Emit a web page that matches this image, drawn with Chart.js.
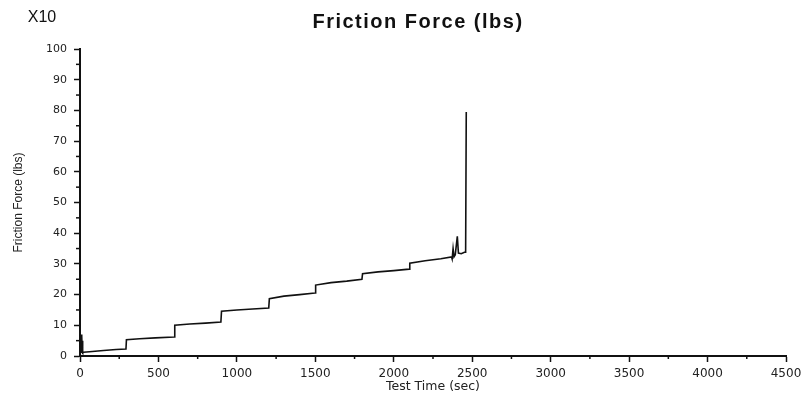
<!DOCTYPE html>
<html>
<head>
<meta charset="utf-8">
<script src="https://cdn.jsdelivr.net/npm/chart.js@4.4.0/dist/chart.umd.min.js"></script>
<style>
  html, body { margin: 0; padding: 0; background: #fff; }
</style>
</head>
<body>
<canvas id="chart" width="808" height="396"></canvas>
<script>
// test time (sec) and friction force (lbs x10)
var times = [0, 8, 10, 12, 14, 16, 18, 22, 60, 150, 230, 293, 296, 380, 480, 600, 604,
  700, 800, 898, 902, 1000, 1100, 1203, 1207, 1300, 1400, 1498, 1502, 1600, 1700,
  1797, 1801, 1900, 2000, 2098, 2102, 2200, 2300, 2368, 2372, 2378, 2384, 2392,
  2405, 2412, 2430, 2450, 2458, 2462];
var forces = [0.8, 7, 1, 6.5, 1.2, 5, 1, 1.2, 1.4, 1.8, 2.1, 2.3, 5.3, 5.6, 5.9, 6.2, 10,
  10.4, 10.7, 11.1, 14.6, 15, 15.3, 15.6, 18.7, 19.5, 20, 20.5, 23.1, 23.9, 24.4,
  25, 26.8, 27.4, 27.8, 28.3, 30.2, 31, 31.7, 32.3, 31.6, 35, 32.3, 33,
  39, 33.5, 33.3, 33.8, 33.8, 79.5];

var xTicks = [0, 500, 1000, 1500, 2000, 2500, 3000, 3500, 4000, 4500];
var yTicks = [0, 10, 20, 30, 40, 50, 60, 70, 80, 90, 100];
var xMinor = [250, 750, 1250, 1750, 2250, 2750, 3250, 3750, 4250];
var yMinor = [5, 15, 25, 35, 45, 55, 65, 75, 85, 95];

var points = times.map(function (t, i) { return { x: t, y: forces[i] }; });

// header text + minor ticks
var extras = {
  id: "extras",
  afterDraw: function (chart) {
    var ctx = chart.ctx;
    var xs = chart.scales.x, ys = chart.scales.y;
    ctx.save();
    ctx.strokeStyle = "#111";
    ctx.lineWidth = 1.5;
    xMinor.forEach(function (v) {
      var px = xs.getPixelForValue(v);
      ctx.beginPath();
      ctx.moveTo(px, xs.top);
      ctx.lineTo(px, xs.top + 3);
      ctx.stroke();
    });
    yMinor.forEach(function (v) {
      var py = ys.getPixelForValue(v);
      ctx.beginPath();
      ctx.moveTo(ys.right - 4, py);
      ctx.lineTo(ys.right, py);
      ctx.stroke();
    });
    ctx.fillStyle = "#111";
    ctx.textBaseline = "middle";
    ctx.textAlign = "center";
    ctx.font = "bold 20px 'Liberation Sans', Arial, sans-serif";
    ctx.letterSpacing = "1.5px";
    ctx.fillText("Friction Force (lbs)", 418, 22);
    ctx.letterSpacing = "0px";
    ctx.font = "16px 'Liberation Sans', Arial, sans-serif";
    ctx.fillText("X10", 42, 18);
    ctx.restore();
  }
};

new Chart(document.getElementById("chart"), {
  type: "line",
  data: {
    datasets: [{
      data: points,
      borderColor: "#111",
      borderWidth: 1.6,
      pointRadius: 0,
      tension: 0,
      fill: false
    }]
  },
  options: {
    responsive: false,
    animation: false,
    layout: { padding: { top: 49, right: 22, bottom: 0, left: 0 } },
    plugins: { legend: { display: false }, tooltip: { enabled: false } },
    scales: {
      x: {
        type: "linear",
        min: 0,
        max: 4500,
        afterBuildTicks: function (s) { s.ticks = xTicks.map(function (v) { return { value: v }; }); },
        afterFit: function (s) { s.height = 40; },
        border: { color: "#111", width: 2 },
        grid: { drawOnChartArea: false, tickLength: 6, tickColor: "#111", tickWidth: 1.5 },
        ticks: {
          color: "#222", padding: 5, maxRotation: 0,
          font: { family: "'DejaVu Sans'", size: 12 },
          callback: function (v) { return String(v); }
        },
        title: {
          display: true, text: "Test Time (sec)", color: "#222",
          font: { family: "'DejaVu Sans'", size: 12.5 },
          padding: { top: 0, bottom: 2 }
        }
      },
      y: {
        min: 0,
        max: 100,
        afterBuildTicks: function (s) { s.ticks = yTicks.map(function (v) { return { value: v }; }); },
        afterFit: function (s) { s.width = 80; },
        border: { color: "#111", width: 2 },
        grid: { drawOnChartArea: false, tickLength: 6, tickColor: "#111", tickWidth: 1.5 },
        ticks: { color: "#222", padding: 7, font: { family: "'DejaVu Sans'", size: 11 } },
        title: {
          display: true, text: "Friction Force (lbs)", color: "#222",
          font: { family: "'Liberation Sans', Arial", size: 12 },
          padding: { top: 11, bottom: 0 }
        }
      }
    }
  },
  plugins: [extras]
});
</script>
</body>
</html>
